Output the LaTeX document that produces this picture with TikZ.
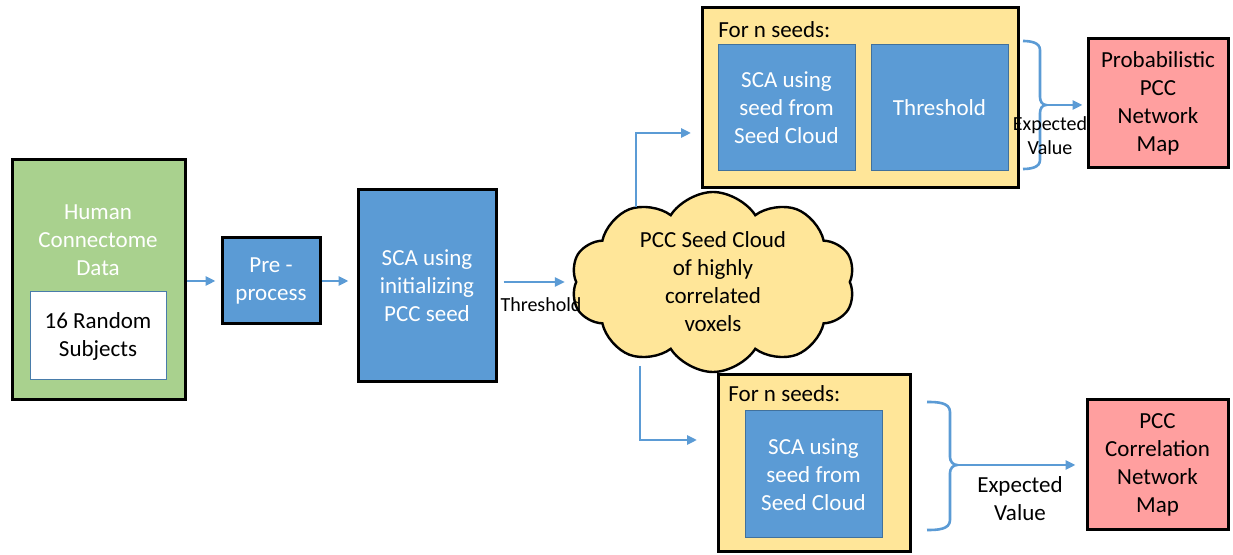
\documentclass[tikz,border=0pt]{standalone}
\usepackage{fontspec}
\setmainfont{Carlito}
\usetikzlibrary{arrows.meta,positioning,shapes.symbols}
\definecolor{boxblue}{HTML}{5B9BD5}
\definecolor{edgeblue}{HTML}{41719C}
\definecolor{datagreen}{HTML}{A9D18E}
\definecolor{seedyellow}{HTML}{FFE699}
\definecolor{mappink}{HTML}{FF9F9F}

\begin{document}
\begin{tikzpicture}[
		x=0.5pt, y=-0.5pt,
		font=\fontsize{11.5}{14}\selectfont,
		block/.style={draw=black, line width=1.5pt, align=center, inner sep=0pt},
		inner/.style={draw=edgeblue, line width=0.5pt, fill=boxblue, text=white, align=center, inner sep=0pt},
		flow/.style={draw=boxblue, line width=1.3pt, -{Triangle[length=5pt,width=4.5pt]}},
		bracepen/.style={draw=boxblue, line width=1.3pt},
		small/.style={font=\fontsize{10}{12}\selectfont, align=center}
		]
		\useasboundingbox (0,0) rectangle (1233,555);
		
		% input data
		\node[block, fill=datagreen, minimum width=86.5pt, minimum height=120pt] (hcd) at (98.5,280) {};
		\node[text=white, align=center] (hcdtext) at (98,240) {Human\\Connectome\\Data};
		\node[draw=boxblue!80!black, line width=0.5pt, fill=white, align=center, minimum width=68pt, minimum height=44pt] (subj) at (98,336) {16 Random\\Subjects};
		
		% preprocessing and initial SCA
		\node[block, fill=boxblue, text=white, minimum width=49pt, minimum height=43pt] (pre) at (271,281) {Pre -\\process};
		\node[block, fill=boxblue, text=white, minimum width=69pt, minimum height=96pt] (sca) at (427,286) {SCA using\\initializing\\PCC seed};
		
		% seed cloud
		\node[cloud, draw=black, line width=1.2pt, fill=seedyellow, cloud puffs=10, cloud puff arc=115, cloud ignores aspect,
			minimum width=142pt, minimum height=90pt, align=center, inner sep=0pt] (cloud) at (713,282) {PCC Seed Cloud\\of highly\\correlated\\voxels};
		
		% upper loop
		\node[block, fill=seedyellow, minimum width=158pt, minimum height=90pt] (toploop) at (860,98) {};
		\node[anchor=west, inner sep=0pt] (topfor) at (718,30) {For n seeds:};
		\node[inner, minimum width=68.5pt, minimum height=63pt] (topsca) at (786.5,108) {SCA using\\seed from\\Seed Cloud};
		\node[inner, minimum width=68.5pt, minimum height=63pt] (topthr) at (939.5,108) {Threshold};
		\node[block, fill=mappink, minimum width=70pt, minimum height=64.5pt] (probmap) at (1158,103.5) {Probabilistic\\PCC\\Network\\Map};
		
		% lower loop
		\node[block, fill=seedyellow, minimum width=96pt, minimum height=88.5pt] (botloop) at (814,463.5) {};
		\node[anchor=west, inner sep=0pt] (botfor) at (728,394) {For n seeds:};
		\node[inner, minimum width=68.5pt, minimum height=63.5pt] (botsca) at (813.5,474.5) {SCA using\\seed from\\Seed Cloud};
		\node[block, fill=mappink, minimum width=70.5pt, minimum height=65pt] (corrmap) at (1157.5,465) {PCC\\Correlation\\Network\\Map};
		
		% connectors
		\draw[flow, shorten >=2.5pt] (hcd.east |- pre.west) -- (pre.west);
		\draw[flow, shorten >=4pt] (pre.east) -- (pre.east -| sca.west);
		\draw[flow, shorten <=3pt, shorten >=5pt] (sca.east |- cloud.west) -- (cloud.west);
		\node[small] (thrlabel) at (541,305) {Threshold};
		
		\coordinate (upout) at (636,207);
		\coordinate (upin) at (691,133);
		\coordinate (downout) at (640,366);
		\coordinate (downin) at (697,440);
		\draw[flow] (upout) |- (upin);
		\draw[flow] (downout) |- (downin);
		
		% braces
		\coordinate (toptip) at (1046,105);
		\draw[bracepen] (1023,41) to[out=0,in=90] (1040,50) -- (1040,97) to[out=-90,in=180] (toptip)
			to[out=180,in=90] (1040,113) -- (1040,160) to[out=-90,in=0] (1023,169);
		\draw[flow, shorten >=2pt] (toptip) -- (probmap.west |- toptip);
		\node[small] (topev) at (1050,136) {Expected\\Value};
		
		\coordinate (bottip) at (957,465);
		\draw[bracepen] (927,402) to[out=0,in=90] (950,412) -- (950,457) to[out=-90,in=180] (bottip)
			to[out=180,in=90] (950,473) -- (950,520) to[out=-90,in=0] (927,530);
		\draw[flow, shorten >=5pt] (bottip) -- (corrmap.west);
		\node[align=center] (botev) at (1020,499) {Expected\\Value};
	\end{tikzpicture}
\end{document}
